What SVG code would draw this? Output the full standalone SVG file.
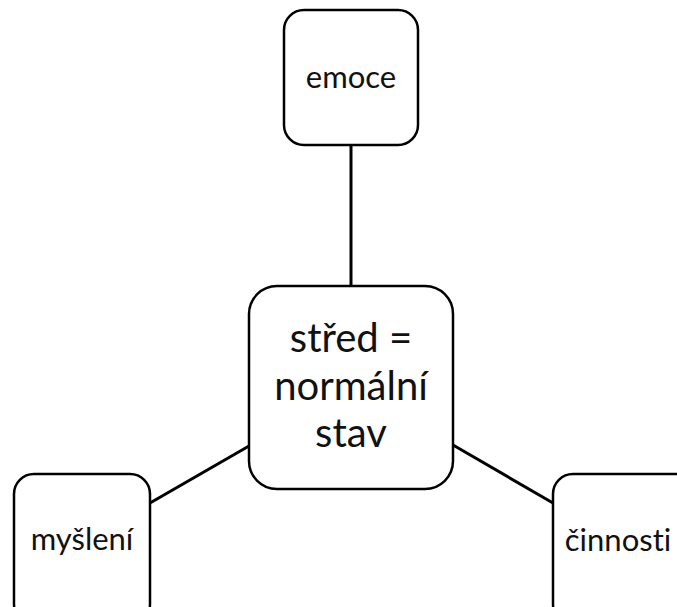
<svg xmlns="http://www.w3.org/2000/svg" width="677" height="607" viewBox="0 0 677 607">
<style>
.box{fill:#fff;stroke:#000;stroke-width:2.5}
.ln{stroke:#000;stroke-width:3;fill:none}
text{font-family:Lato,"Open Sans",sans-serif;fill:#111;text-anchor:middle;font-variant-ligatures:none}
.s{font-size:31px}
.b{font-size:40px}
</style>
<rect width="677" height="607" fill="#fff"/>
<g id="connectors">
<line class="ln" x1="351" y1="145" x2="351" y2="286"/>
<line class="ln" x1="249" y1="446" x2="150" y2="503"/>
<line class="ln" x1="453" y1="445" x2="553" y2="503"/>
</g>
<g id="emoce">
<rect class="box" x="284" y="10" width="134" height="135" rx="20"/>
<text class="s" x="351" y="88">emoce</text>
</g>
<g id="stred">
<rect class="box" x="249" y="286" width="204" height="203" rx="28"/>
<text class="b" x="351" y="352">střed =</text>
<text class="b" x="351" y="400">normální</text>
<text class="b" x="351" y="447">stav</text>
</g>
<g id="mysleni">
<rect class="box" x="14" y="474" width="136" height="150" rx="20"/>
<text class="s" x="82" y="550">myšlení</text>
</g>
<g id="cinnosti">
<rect class="box" x="553" y="474" width="150" height="150" rx="20"/>
<text class="s" x="618" y="551">činnosti</text>
</g>
</svg>
